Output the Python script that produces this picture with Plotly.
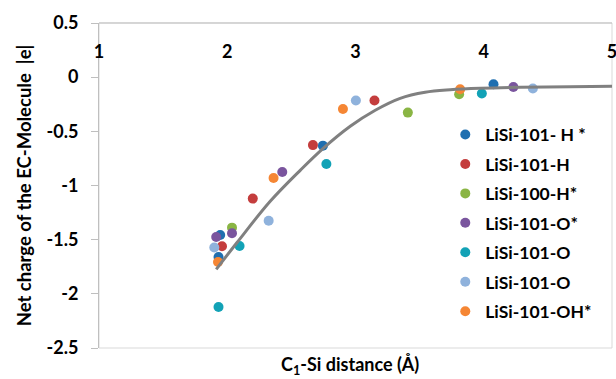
import plotly.graph_objects as go

# ---- data ----
names = ["LiSi-101- H *", "LiSi-101-H", "LiSi-100-H*", "LiSi-101-O*",
         "LiSi-101-O", "LiSi-101-O", "LiSi-101-OH*"]
colors = ["#1F6FB0", "#C43D3D", "#8AB544", "#7A559E",
          "#12A2B6", "#8FB2DC", "#F58634"]

h_star_x = [1.945, 1.932, 2.746, 4.076]
h_star_y = [-1.457, -1.660, -0.632, -0.066]

h_x = [1.959, 2.199, 2.668, 3.148]
h_y = [-1.561, -1.121, -0.627, -0.216]

h100_x = [2.037, 3.408, 3.808]
h100_y = [-1.389, -0.327, -0.158]

o_star_x = [1.914, 2.037, 2.429, 4.231]
o_star_y = [-1.476, -1.441, -0.875, -0.090]

o_a_x = [1.932, 2.096, 2.773, 3.985]
o_a_y = [-2.122, -1.559, -0.801, -0.151]

o_b_x = [1.899, 2.323, 3.003, 4.383]
o_b_y = [-1.573, -1.326, -0.216, -0.105]

oh_x = [1.928, 2.361, 2.902, 3.816]
oh_y = [-1.706, -0.931, -0.294, -0.112]

fit_x = [1.914, 2.078, 2.335, 2.569, 2.748, 2.959, 3.154, 3.348, 3.543,
         3.738, 3.972, 4.284, 4.674, 5.0]
fit_y = [-1.774, -1.524, -1.146, -0.860, -0.657, -0.453, -0.305, -0.195,
         -0.139, -0.116, -0.102, -0.093, -0.088, -0.084]

x_ticks = [1, 2, 3, 4, 5]
y_ticks = [0.5, 0, -0.5, -1, -1.5, -2, -2.5]
y_labels = ["0.5", "0", "-0.5", "-1", "-1.5", "-2", "-2.5"]

series = [(h_star_x, h_star_y), (h_x, h_y), (h100_x, h100_y), (o_star_x, o_star_y),
          (o_a_x, o_a_y), (o_b_x, o_b_y), (oh_x, oh_y)]

FONT = "Lato"
TICK = dict(family=FONT, size=18, color="#000000", weight="bold")

fig = go.Figure()
for i, ((xs, ys), nm, col) in enumerate(zip(series, names, colors)):
    fig.add_trace(go.Scatter(
        x=xs, y=ys, mode="markers", name=nm, legendgroup=f"g{i}",
        marker=dict(size=10, color=col, line=dict(width=0)),
    ))

fig.add_trace(go.Scatter(
    x=fit_x, y=fit_y, mode="lines", showlegend=False,
    line=dict(color="#808080", width=3, shape="spline"),
    hoverinfo="skip",
))

fig.update_layout(
    width=616, height=379,
    margin=dict(l=99, r=4, t=23, b=31),
    paper_bgcolor="white", plot_bgcolor="white",
    font=dict(family=FONT, size=17, color="#000000"),
    showlegend=True,
    legend=dict(
        x=0.675, y=0.712, xanchor="left", yanchor="top",
        bgcolor="rgba(255,255,255,0)",
        font=dict(family=FONT, size=17.5, color="#000000", weight="bold"),
        traceorder="grouped", tracegroupgap=3.7,
    ),
    xaxis=dict(
        range=[1, 5], side="bottom", tickvals=x_ticks,
        anchor="free", position=0.952, automargin=False,
        ticks="", showline=False, ticklabeloverflow="allow",
        showgrid=False, zeroline=False,
        tickfont=TICK,
    ),
    yaxis=dict(
        range=[-2.5, 0.5], tickvals=y_ticks, ticktext=y_labels,
        automargin=False,
        ticks="outside", ticklen=7, tickcolor="#BFBFBF",
        ticklabelstandoff=9,
        showline=True, linecolor="#BFBFBF", linewidth=1,
        showgrid=False, zeroline=False,
        tickfont=TICK,
        title=dict(text="Net charge of the EC-Molecule\u00a0\u00a0|e|", standoff=10,
                   font=dict(family=FONT, size=18.5, color="#000000", weight="bold")),
    ),
    shapes=[
        dict(type="rect", xref="paper", yref="paper", x0=0, y0=0, x1=1, y1=1,
             line=dict(color="#D9D9D9", width=1), layer="below"),
        dict(type="line", xref="paper", yref="paper", x0=0, y0=1, x1=1, y1=1,
             line=dict(color="#BFBFBF", width=1), layer="below"),
    ],
    annotations=[dict(
        text="C<sub>1</sub>-Si distance (Å)", xref="paper", yref="paper",
        x=0.49, y=0, yshift=-3, xanchor="center", yanchor="top", showarrow=False,
        font=dict(family=FONT, size=18, color="#000000", weight="bold"),
    )],
)

fig.write_html("out.html")
